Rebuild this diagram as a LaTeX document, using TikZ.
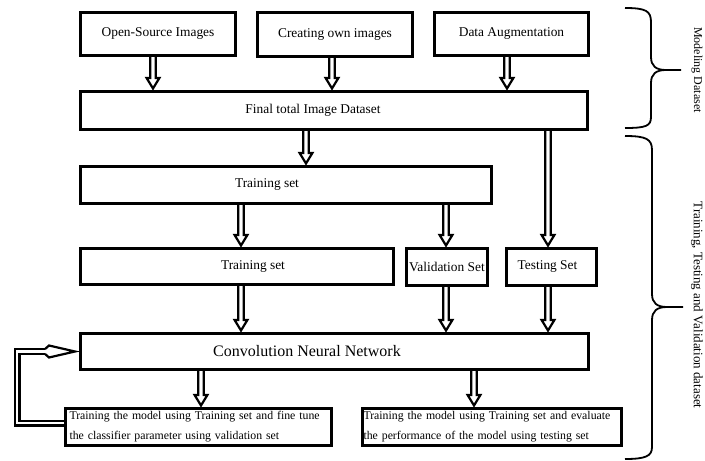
\documentclass[tikz,border=0pt]{standalone}
\usepackage{fontspec}
\setmainfont{Liberation Serif}
\usetikzlibrary{calc}
\begin{document}
\begin{tikzpicture}[x=1pt,y=-1pt,
  box/.style={draw, line width=3pt, fill=white, inner sep=0pt,
    font=\fontsize{13.4}{16}\selectfont},
  bigbox/.style={box, font=\fontsize{16}{19}\selectfont},
  txtbox/.style={box, align=left, inner xsep=4pt,
    font=\fontsize{11.8}{20}\selectfont},
  harrow/.style={draw, line width=2.2pt, fill=white, line join=miter,
    to path={let \p1=(\tikztostart), \p2=(\tikztotarget) in
      (\x1-2.8pt,\y1) -- (\x1-2.8pt,\y2+12pt) -- (\x1-6.4pt,\y2+12pt)
      -- (\x1,\y2+1.5pt) -- (\x1+6.4pt,\y2+12pt) -- (\x1+2.8pt,\y2+12pt)
      -- (\x1+2.8pt,\y1)}},
  dline/.style={draw, double=white, double distance=2.6pt, line width=2.2pt},
  hhead/.style={draw, line width=2.2pt, fill=white, line join=miter},
  brace/.style={draw, line width=1.8pt},
  side/.style={rotate=-90, inner sep=0pt}
]
\useasboundingbox (0,0) rectangle (705,461);

% boxes
\node[box, minimum width=155pt, minimum height=43pt] (os) at (158,34) {Open-Source Images};
\node[box, minimum width=155pt, minimum height=44pt] (co) at (335,34.5) {Creating own images};
\node[box, minimum width=154pt, minimum height=43pt] (da) at (511.5,34) {Data Augmentation};
\node[box, minimum width=507pt, minimum height=38pt] (fin) at (334,110.5) {Final total Image Dataset\hspace*{42pt}};
\node[box, minimum width=411pt, minimum height=37pt] (ts1) at (286,185) {Training set\hspace*{38pt}};
\node[box, minimum width=313pt, minimum height=36pt] (ts2) at (237,266.5) {\hspace*{32pt}Training set};
\node[box, minimum width=81pt, minimum height=37pt] (val) at (447,267) {Validation Set};
\node[box, minimum width=90pt, minimum height=37pt] (tst) at (551.5,267) {Testing Set\hspace*{8pt}};
\node[bigbox, minimum width=508pt, minimum height=36pt] (cnn) at (334.5,351.5) {Convolution Neural Network\hspace*{55pt}};
\node[txtbox, minimum width=266pt, minimum height=37pt, text width=258pt] (lb) at (198.5,427)
  {Training the model using Training set and fine tune\\the classifier parameter using validation set};
\node[txtbox, minimum width=259pt, minimum height=37pt, text width=257pt, inner xsep=1pt] (rb) at (492,427)
  {Training the model using Training set and evaluate\\the performance of the model using testing set};

% hollow arrows
\draw[harrow] (153,0 |- os.south) to (153,0 |- fin.north);
\draw[harrow] (332,0 |- co.south) to (332,0 |- fin.north);
\draw[harrow] (507,0 |- da.south) to (507,0 |- fin.north);
\draw[harrow] (306,0 |- fin.south) to (306,0 |- ts1.north);
\draw[harrow] (548,0 |- fin.south) to (548,0 |- tst.north);
\draw[harrow] (241,0 |- ts1.south) to (241,0 |- ts2.north);
\draw[harrow] (446,0 |- ts1.south) to (446,0 |- val.north);
\draw[harrow] (241,0 |- ts2.south) to (241,0 |- cnn.north);
\draw[harrow] (446,0 |- val.south) to (446,0 |- cnn.north);
\draw[harrow] (548,0 |- tst.south) to (548,0 |- cnn.north);
\draw[harrow] (201,0 |- cnn.south) to (201,0 |- lb.north);
\draw[harrow] (474,0 |- cnn.south) to (474,0 |- rb.north);

% feedback loop
\coordinate (fbx) at (17,0);
\draw[dline] ([yshift=4pt]lb.west) -| (fbx |- cnn.west) -- ([xshift=-34pt]cnn.west);
\draw[hhead] ([xshift=-34pt,yshift=2.4pt]cnn.west) -- ([xshift=-30pt,yshift=6pt]cnn.west)
  -- ([xshift=-4pt]cnn.west) -- ([xshift=-30pt,yshift=-6pt]cnn.west)
  -- ([xshift=-34pt,yshift=-2.4pt]cnn.west);

% braces
\draw[brace] (625,8) .. controls (646,8) and (651,11) .. (651,22) -- (651,57)
  .. controls (651,66) and (656,70) .. (666,70) -- (681,70);
\draw[brace] (666,70) .. controls (656,70) and (651,74) .. (651,83) -- (651,117)
  .. controls (651,126) and (646,128) .. (625,128);
\draw[brace] (625,136) .. controls (646,136) and (652,139) .. (652,150) -- (652,294)
  .. controls (652,303) and (657,307) .. (667,307) -- (683,307);
\draw[brace] (667,307) .. controls (657,307) and (652,311) .. (652,320) -- (652,447)
  .. controls (652,456) and (646,459) .. (625,459);

\node[side, font=\fontsize{12}{14}\selectfont] (md) at (697,70) {Modeling Dataset};
\node[side, font=\fontsize{13}{15}\selectfont] (tv) at (697,305) {Training, Testing and Validation dataset};
\end{tikzpicture}
\end{document}
